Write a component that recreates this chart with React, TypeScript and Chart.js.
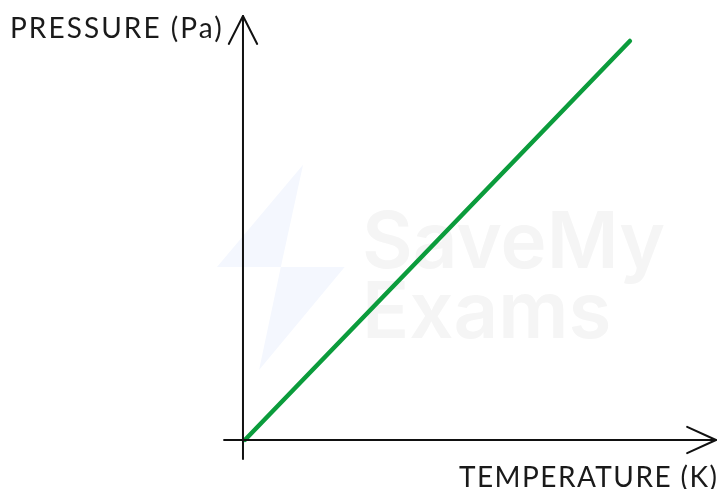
import React, { useEffect, useRef } from "react";
import { Chart, registerables } from "chart.js";

Chart.register(...registerables);

// Data units: temperature 0–100, pressure 0–100 (arbitrary; the source axes have no ticks)
const temperature = [0.4, 81.8];
const pressure = [0, 94.1];

const xAxisLine = [
  { x: -4, y: 0 },
  { x: 100, y: 0 },
];
const yAxisLine = [
  { x: 0, y: -4.5 },
  { x: 0, y: 100 },
];
const xArrowHead = [
  { x: 93.9, y: 3.1 },
  { x: 100, y: 0 },
  { x: 93.9, y: -3.1 },
];
const yArrowHead = [
  { x: -3, y: 93.4 },
  { x: 0, y: 100 },
  { x: 3, y: 93.4 },
];
const boltUpper = [
  { x: 12.7, y: 64.9 },
  { x: -5.5, y: 40.8 },
  { x: 8, y: 40.8 },
];
const boltLower = [
  { x: 21.5, y: 40.8 },
  { x: 3.4, y: 16.5 },
  { x: 8, y: 40.8 },
];

const yLabel = "PRESSURE (Pa)";
const xLabel = "TEMPERATURE (K)";
const watermarkLines = ["SaveMy", "Exams"];

const drawExtras = {
  id: "drawExtras",
  beforeDatasetsDraw(chart: any) {
    const { ctx, scales } = chart;
    const px = (p: { x: number; y: number }) => [scales.x.getPixelForValue(p.x), scales.y.getPixelForValue(p.y)];
    ctx.save();
    ctx.fillStyle = "#f4f7fe";
    for (const tri of [boltUpper, boltLower]) {
      ctx.beginPath();
      tri.forEach((p, i) => {
        const [a, b] = px(p);
        if (i) ctx.lineTo(a, b);
        else ctx.moveTo(a, b);
      });
      ctx.closePath();
      ctx.fill();
    }
    ctx.fillStyle = "#f5f5f5";
    ctx.font = '600 78px Inter';
    ctx.textBaseline = "alphabetic";
    ctx.fillText(watermarkLines[0], 362, 268);
    ctx.fillText(watermarkLines[1], 362, 338);
    ctx.restore();
  },
  afterDatasetsDraw(chart: any) {
    const { ctx } = chart;
    ctx.save();
    ctx.fillStyle = "#1a1a1a";
    ctx.textBaseline = "alphabetic";
    ctx.font = '400 28px Lato';
    (ctx as any).letterSpacing = "2.05px";
    ctx.fillText(yLabel, 10, 38);
    (ctx as any).letterSpacing = "1.45px";
    ctx.fillText(xLabel, 459, 487);
    ctx.restore();
  },
};

export default function App() {
  const ref = useRef<HTMLCanvasElement>(null);
  useEffect(() => {
    const axisStyle = {
      borderColor: "#111111",
      borderWidth: 2,
      pointRadius: 0,
      tension: 0,
      fill: false,
      borderCapStyle: "round" as const,
      borderJoinStyle: "round" as const,
    };
    const chart = new Chart(ref.current!, {
      type: "line",
      data: {
        datasets: [
          { label: "xAxis", data: xAxisLine, ...axisStyle },
          { label: "yAxis", data: yAxisLine, ...axisStyle },
          { label: "xArrow", data: xArrowHead, ...axisStyle },
          { label: "yArrow", data: yArrowHead, ...axisStyle },
          {
            label: "Pressure",
            data: temperature.map((t, i) => ({ x: t, y: pressure[i] })),
            borderColor: "#0b9c3c",
            borderWidth: 4.5,
            pointRadius: 0,
            tension: 0,
            fill: false,
            borderCapStyle: "round" as const,
          },
        ],
      },
      options: {
        animation: false,
        responsive: false,
        devicePixelRatio: 1,
        layout: { padding: 0 },
        plugins: { legend: { display: false }, tooltip: { enabled: false }, title: { display: false } },
        scales: {
          x: { type: "linear", display: false, min: -51.37, max: 100.85 },
          y: { type: "linear", display: false, min: -11.56, max: 103.77 },
        },
      },
      plugins: [drawExtras],
    });
    return () => chart.destroy();
  }, []);
  return (
    <div style={{ position: "fixed", left: 0, top: 0, width: 720, height: 489, background: "#fff" }}>
      <canvas ref={ref} width={720} height={489} style={{ display: "block" }} />
    </div>
  );
}
